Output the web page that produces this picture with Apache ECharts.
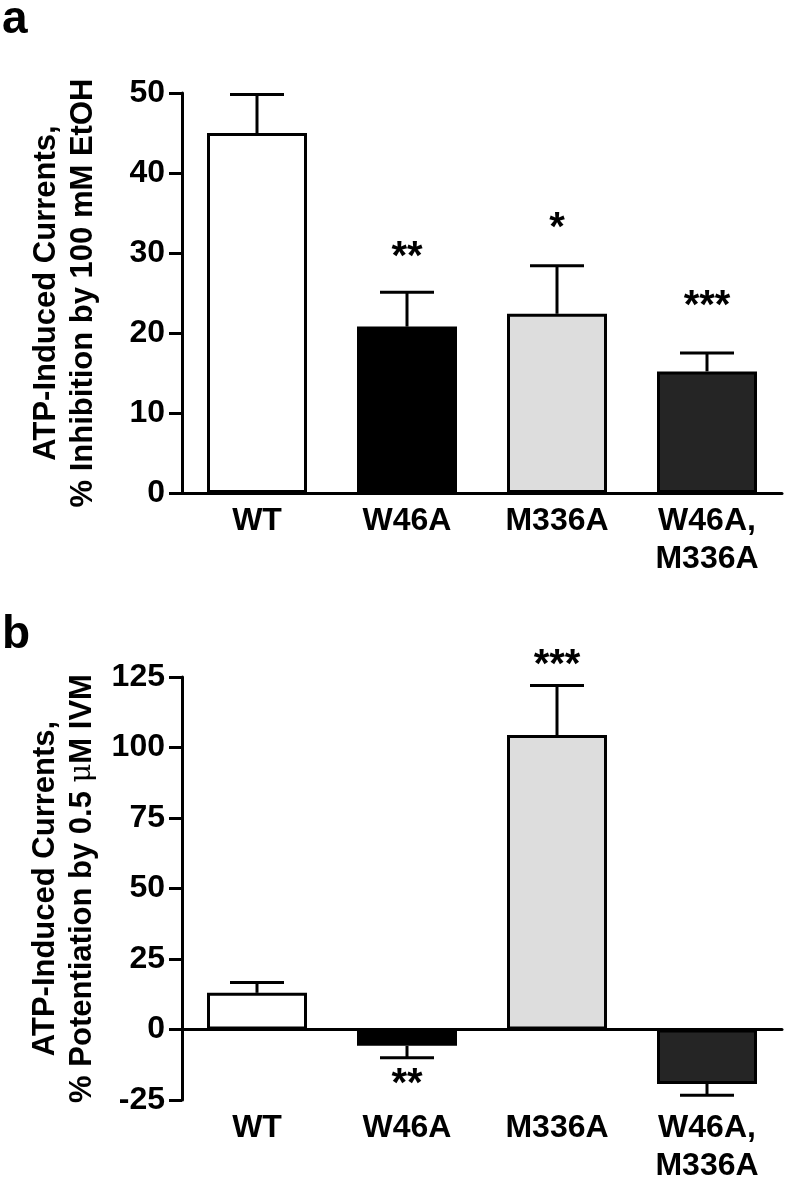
<!DOCTYPE html>
<html>
<head>
<meta charset="utf-8">
<script src="https://cdn.jsdelivr.net/npm/echarts@6/dist/echarts.min.js"></script>
<style>
	html, body { margin: 0; padding: 0; background: #fff; }
	#main { width: 786px; height: 1185px; }
</style>
</head>
<body>
<div id="main"></div>
<script>
// groups on the x axis
var categories = ['WT', 'W46A', 'M336A', 'W46A,\nM336A']
var barColors = ['#ffffff', '#000000', '#dddddd', '#252525']

// panel a: % inhibition by 100 mM EtOH
var inhibMean = [45, 20.8, 22.4, 15.2]
var inhibSem = [4.8, 4.3, 6.0, 2.3]
var inhibStars = ['', '**', '*', '***']
var inhibStarY = [null, 29.4, 33.0, 23.2]

// panel b: % potentiation by 0.5 uM IVM
var potMean = [13, -5.8, 104.4, -19.3]
var potSem = [3.7, 4.2, 17.6, 4.0]
var potStars = ['', '**', '***', '']
var potStarY = [null, -19.5, 129, null]

var FONT = '"Liberation Sans", Arial, Helvetica, sans-serif'

var myChart = echarts.init(document.getElementById('main'))

function errBar(params, api) {
	var c = api.coord([api.value(0), api.value(1)])
	var e = api.coord([api.value(0), api.value(2)])
	var half = 27
	var st = { stroke: '#000', lineWidth: 3 }
	return {
		type: 'group',
		children: [
			{ type: 'line', shape: { x1: c[0], y1: c[1], x2: e[0], y2: e[1] }, style: st },
			{ type: 'line', shape: { x1: e[0] - half, y1: e[1], x2: e[0] + half, y2: e[1] }, style: st }
		]
	}
}

function barData(mean) {
	return mean.map(function (v, i) {
		return { value: v, itemStyle: { color: barColors[i] } }
	})
}

function errData(mean, sem) {
	return mean.map(function (v, i) {
		var end = v >= 0 ? v + sem[i] : v - sem[i]
		return [i, v, end]
	})
}

function starData(ys, stars) {
	var out = []
	ys.forEach(function (y, i) {
		if (y !== null) out.push({ value: [i, y], star: stars[i] })
	})
	return out
}

function yAxisCfg(grid, min, max, interval, name) {
	return {
		type: 'value', gridIndex: grid, min: min, max: max, interval: interval,
		name: name, nameLocation: 'middle', nameRotate: 90, nameGap: 80,
		nameTextStyle: {
			fontFamily: FONT, fontWeight: 'bold', fontSize: 31, color: '#000', lineHeight: 37,
			rich: { mu: { fontFamily: '"DejaVu Serif", serif', fontWeight: 'normal', fontSize: 29 } }
		},
		axisLine: { show: true, lineStyle: { color: '#000', width: 3 } },
		axisTick: { show: true, length: 13, lineStyle: { color: '#000', width: 3 } },
		axisLabel: { margin: 17, fontFamily: FONT, fontWeight: 'bold', fontSize: 32, color: '#000' },
		splitLine: { show: false }
	}
}

var xLabel = { margin: 9, fontFamily: FONT, fontWeight: 'bold', fontSize: 32, color: '#000', lineHeight: 38 }

var starLabel = {
	show: true, position: 'inside', fontFamily: FONT, fontWeight: 'bold', fontSize: 40, color: '#000', opacity: 1,
	formatter: function (p) { return p.data.star }
}

var option = {
	animation: false,
	grid: [
		{ left: 182, top: 93, width: 600, height: 400 },
		{ left: 182, top: 677, width: 600, height: 425 }
	],
	graphic: [
		{ type: 'text', left: 2, top: -3, style: { text: 'a', font: 'bold 46px ' + FONT, fill: '#000' } },
		{ type: 'text', left: 2, top: 612, style: { text: 'b', font: 'bold 46px ' + FONT, fill: '#000' } }
	],
	xAxis: [
		{
			type: 'category', gridIndex: 0, data: categories,
			axisLine: { lineStyle: { color: '#000', width: 3 } },
			axisTick: { show: false },
			axisLabel: xLabel
		},
		{
			// zero line of panel b
			type: 'category', gridIndex: 1, data: categories, position: 'bottom',
			axisLine: { onZero: true, lineStyle: { color: '#000', width: 3 } },
			axisTick: { show: false }, axisLabel: { show: false }
		},
		{
			type: 'category', gridIndex: 1, data: categories, position: 'bottom',
			axisLine: { show: false, onZero: false },
			axisTick: { show: false },
			axisLabel: xLabel
		}
	],
	yAxis: [
		yAxisCfg(0, 0, 50, 10, 'ATP-Induced Currents,\n% Inhibition by 100 mM EtOH'),
		yAxisCfg(1, -25, 125, 25, 'ATP-Induced Currents,\n% Potentiation by 0.5 {mu|μ}M IVM')
	],
	series: [
		{
			type: 'bar', xAxisIndex: 0, yAxisIndex: 0, barWidth: 100,
			data: barData(inhibMean),
			itemStyle: { borderColor: '#000', borderWidth: 3 }
		},
		{
			type: 'custom', xAxisIndex: 0, yAxisIndex: 0, renderItem: errBar,
			data: errData(inhibMean, inhibSem), z: 3
		},
		{
			type: 'scatter', xAxisIndex: 0, yAxisIndex: 0, symbolSize: 0, clip: false,
			itemStyle: { opacity: 1 },
			data: starData(inhibStarY, inhibStars),
			label: starLabel
		},
		{
			type: 'bar', xAxisIndex: 2, yAxisIndex: 1, barWidth: 100,
			data: barData(potMean),
			itemStyle: { borderColor: '#000', borderWidth: 3 }
		},
		{
			type: 'custom', xAxisIndex: 2, yAxisIndex: 1, renderItem: errBar, clip: false,
			data: errData(potMean, potSem), z: 3
		},
		{
			type: 'scatter', xAxisIndex: 2, yAxisIndex: 1, symbolSize: 0, clip: false,
			itemStyle: { opacity: 1 },
			data: starData(potStarY, potStars),
			label: starLabel
		}
	]
}
myChart.setOption(option)
</script>
</body>
</html>
